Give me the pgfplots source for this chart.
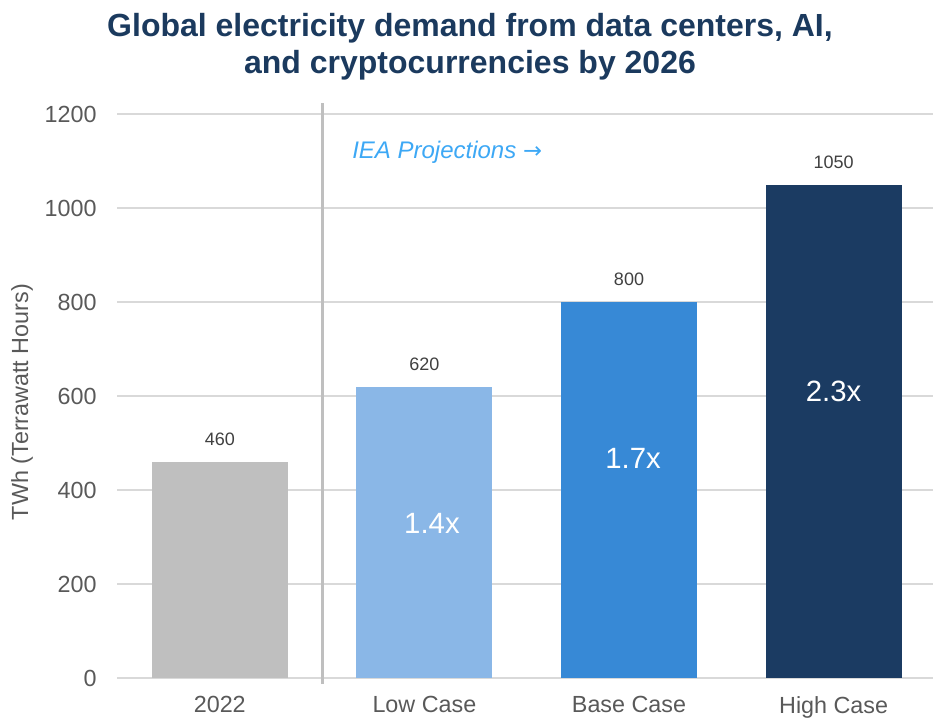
\documentclass[border=0pt]{standalone}
\usepackage{pgfplots}
\pgfplotsset{compat=1.18}
\usepackage{fontspec}
\setmainfont{Liberation Sans}
\newfontfamily\arrowfont{DejaVu Sans}

\definecolor{titleblue}{HTML}{1B3A5E}
\definecolor{ieablue}{HTML}{3DA8F5}
\definecolor{bargray}{HTML}{BFBFBF}
\definecolor{lowblue}{HTML}{8AB7E7}
\definecolor{baseblue}{HTML}{3789D6}
\definecolor{highblue}{HTML}{1B3B62}
\definecolor{gridgray}{HTML}{D9D9D9}
\definecolor{sepgray}{HTML}{BFBFBF}
\definecolor{textgray}{HTML}{595959}
\definecolor{valgray}{HTML}{404040}

\begin{document}
\begin{tikzpicture}
\useasboundingbox (-88.1pt,-29.25pt) rectangle (611.6pt,508.5pt);
\begin{axis}[
    scale only axis,
    width=613.8pt, height=423pt,
    xmin=-0.5, xmax=3.5,
    ymin=0, ymax=1200,
    ytick={0,200,...,1200},
    xtick={0,1,2,3},
    xticklabels={2022, Low Case, Base Case, High Case},
    axis line style={draw=none},
    major tick length=0pt,
    ymajorgrids,
    grid style={gridgray, line width=1.2pt},
    /pgf/number format/1000 sep={},
    /pgf/number format/assume math mode=true,
    ticklabel style={font=\fontsize{17.5}{20}\selectfont, text=textgray},
    yticklabel style={anchor=east, inner sep=0pt, xshift=-15.5pt},
    xticklabel style={anchor=north, inner sep=0pt, yshift=-13.5pt},
    ybar, bar width=0.665, bar shift=0pt,
    nodes near coords,
    every node near coord/.append style={font=\fontsize{13.5}{16}\selectfont,
        text=valgray, anchor=south, inner sep=0pt, yshift=12pt},
    clip=false,
]
\addplot[draw=none, fill=bargray] coordinates {(0,460)};
\addplot[draw=none, fill=lowblue] coordinates {(1,620)};
\addplot[draw=none, fill=baseblue] coordinates {(2,800)};
\addplot[draw=none, fill=highblue] coordinates {(3,1050)};

% separator between actual and projections
\draw[sepgray, line width=2.2pt] (axis cs:0.5,-13) -- (axis cs:0.5,1223);

% growth multipliers
\node[white, font=\fontsize{22}{26}\selectfont] at (axis cs:1.037,328) {1.4x};
\node[white, font=\fontsize{22}{26}\selectfont] at (axis cs:2.02,468) {1.7x};
\node[white, font=\fontsize{22}{26}\selectfont] at (axis cs:3,610) {2.3x};
\end{axis}

\node[anchor=base, font=\fontsize{24}{28}\selectfont\bfseries, text=titleblue]
    at (264.4pt,480.75pt) {Global electricity demand from data centers, AI,};
\node[anchor=base, font=\fontsize{24}{28}\selectfont\bfseries, text=titleblue]
    at (264.4pt,453.4pt) {and cryptocurrencies by 2026};
\node[rotate=90, font=\fontsize{17.5}{20}\selectfont, text=textgray]
    at (-71.6pt,207pt) {TWh (Terrawatt Hours)};
\node[anchor=base west, font=\fontsize{18}{21}\selectfont\itshape, text=ieablue, inner sep=0pt]
    at (175.9pt,390pt) {IEA Projections {\arrowfont\upshape\fontsize{17}{20}\selectfont →}};
\end{tikzpicture}
\end{document}
